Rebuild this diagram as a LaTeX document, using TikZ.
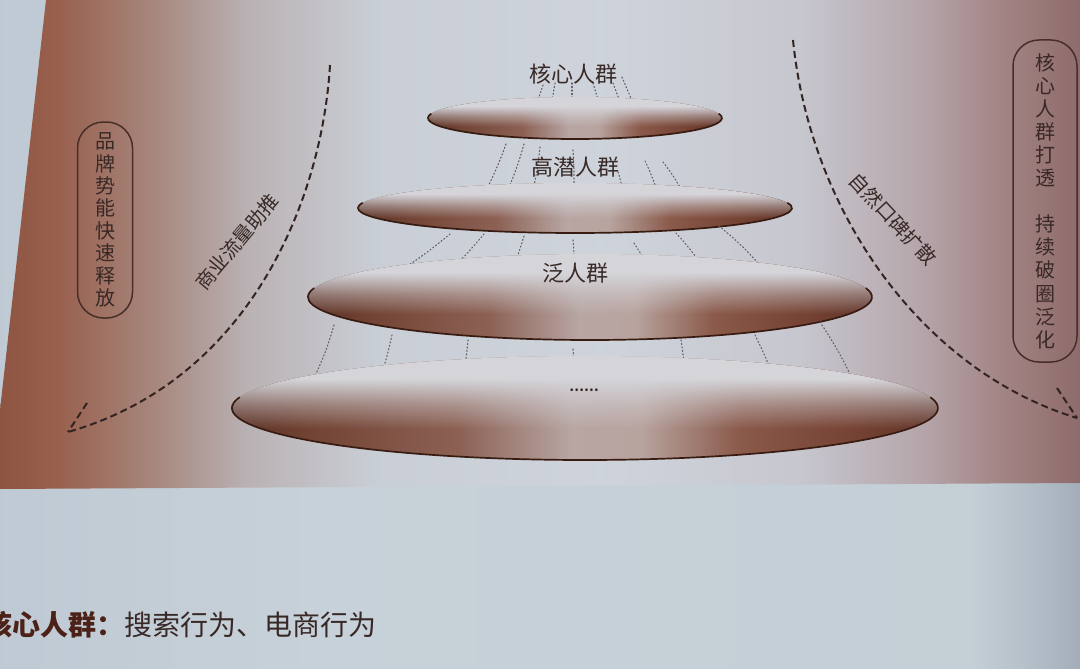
\documentclass[tikz,border=0pt]{standalone}
\usepackage{fontspec}
\setmainfont{Noto Sans CJK SC}
\usetikzlibrary{fadings}
\definecolor{ink}{rgb}{0.22,0.16,0.15}
\definecolor{rimcol}{rgb}{0.22,0.11,0.07}
\definecolor{dashcol}{rgb}{0.20,0.14,0.13}
\definecolor{dotcol}{rgb}{0.38,0.36,0.38}
\definecolor{discTop}{rgb}{0.83,0.83,0.85}
\definecolor{btitle}{rgb}{0.30,0.13,0.09}
\definecolor{boxcol}{rgb}{0.28,0.18,0.16}
\pgfdeclarehorizontalshading{pagebg}{100bp}{rgb(0bp)=(0.75,0.79,0.83); rgb(25bp)=(0.75,0.79,0.83); rgb(40bp)=(0.78,0.82,0.85); rgb(70bp)=(0.77,0.81,0.84); rgb(73bp)=(0.70,0.74,0.78); rgb(75bp)=(0.64,0.68,0.72); rgb(100bp)=(0.64,0.68,0.72)}
\pgfdeclarehorizontalshading{figbg}{100bp}{rgb(0bp)=(0.56,0.33,0.26); rgb(25bp)=(0.56,0.33,0.26); rgb(27.8bp)=(0.60,0.38,0.31); rgb(31.9bp)=(0.65,0.52,0.48); rgb(36.6bp)=(0.73,0.70,0.71); rgb(42.6bp)=(0.79,0.81,0.84); rgb(52.8bp)=(0.81,0.83,0.86); rgb(62bp)=(0.78,0.78,0.81); rgb(67.6bp)=(0.71,0.65,0.67); rgb(71.3bp)=(0.64,0.52,0.52); rgb(75bp)=(0.56,0.42,0.42); rgb(100bp)=(0.56,0.42,0.42)}
\pgfdeclarehorizontalshading{discshade}{100bp}{rgb(0bp)=(0.36,0.19,0.14); rgb(25bp)=(0.36,0.19,0.14); rgb(31bp)=(0.45,0.27,0.21); rgb(41bp)=(0.55,0.38,0.33); rgb(49bp)=(0.72,0.65,0.64); rgb(54bp)=(0.72,0.64,0.62); rgb(61bp)=(0.54,0.35,0.29); rgb(69bp)=(0.46,0.26,0.20); rgb(75bp)=(0.38,0.20,0.15); rgb(100bp)=(0.38,0.20,0.15)}
\pgfdeclareverticalshading{topfadeshade}{100bp}{color(0bp)=(pgftransparent!100); color(40bp)=(pgftransparent!100); color(52bp)=(pgftransparent!55); color(64bp)=(pgftransparent!0); color(100bp)=(pgftransparent!0)}
\pgfdeclarefading{topfade}{\pgfuseshading{topfadeshade}}
\newcommand\mydisc[4]{%
  \shade[shading=discshade] (#1,#2) ellipse[x radius=#3, y radius=#4];
  \fill[discTop, path fading=topfade] (#1,#2) ellipse[x radius=#3, y radius=#4];
  \draw[rim] (#1,#2) ++(192:#3 and #4) arc[start angle=192, end angle=-12, x radius=#3, y radius=#4];
}
\begin{document}
\begin{tikzpicture}[x=1pt,y=-1pt,
  rim/.style={draw=rimcol, line width=1.7pt},
  dotline/.style={draw=dotcol, line width=1.1pt, dash pattern=on 1.1pt off 2.4pt, line cap=round},
  dashline/.style={draw=dashcol, line width=2pt, dash pattern=on 7pt off 4pt},
  lab/.style={text=ink, inner sep=0pt, font=\fontsize{22}{24}\selectfont},
  curvelab/.style={text=ink, inner sep=0pt, font=\fontsize{19.5}{21}\selectfont},
  vbox/.style={draw=boxcol, line width=1.5pt, text=ink, align=center, inner sep=0pt, rounded corners=26pt},
]
\useasboundingbox (0,0) rectangle (1080,669);
\clip (0,0) rectangle (1080,669);
% page and figure backgrounds
\shade[shading=pagebg] (0,0) rectangle (1080,669);
\shade[shading=figbg] (46,0) -- (1080,0) -- (1080,483) -- (0,489) -- (0,410) -- cycle;

% dotted lines above core
\foreach \a/\b/\c/\d in {543/85/533/115, 555/83/550/113, 572/83/572/103, 593/83/602/113, 613/83/623/110, 622/77/635/108}
  \draw[dotline] (\a,\b) -- (\c,\d);

% disc 1 (core)
\mydisc{575}{118}{147}{21}
% dotted lines between disc 1 and 2
\foreach \a/\b/\c/\d in {506/144/482/198, 524/144/506/194, 540/147/531/198, 573/150/573/201, 618/172/625/203, 645/161/658/194, 663/162/681/189}
  \draw[dotline] (\a,\b) to[bend left=4] (\c,\d);

% disc 2
\mydisc{575}{208}{217}{25}
% dotted lines between disc 2 and 3
\foreach \a/\b/\c/\d in {450/234/379/283, 484/234/430/288, 524/236/502/292, 573/240/573/292, 634/243/656/285, 676/233/708/275, 719/226/764/270}
  \draw[dotline] (\a,\b) to[bend left=5] (\c,\d);

% disc 3
\mydisc{590}{297}{282}{43}
% dotted lines between disc 3 and 4
\foreach \a/\b/\c/\d in {334/325/312/382, 392/335/372/399, 468/340/455/412, 573/349/573/422, 681/340/685/402, 755/335/779/396, 820/322/858/392}
  \draw[dotline] (\a,\b) to[bend left=5] (\c,\d);

% disc 4
\mydisc{585}{408}{353}{52}

% labels on discs
\node[lab] (core) at (573,74) {核心人群};
\node[lab] (high) at (575,167) {高潜人群};
\node[lab] (broad) at (575,273) {泛人群};
\node[text=ink, inner sep=0pt, font=\bfseries\fontsize{13}{13}\selectfont] (more) at (584,390) {……};

% dashed curved arrows
\coordinate (Ls) at (330,65);
\coordinate (Lt) at (68,432);
\coordinate (Lb) at (87,403);
\draw[dashline] (Ls) .. controls (322,200) and (250,380) .. (Lt);
\draw[dashline] (Lb) -- (Lt);
\coordinate (Rs) at (793,40);
\coordinate (Rt) at (1077,418);
\coordinate (Rb) at (1057,388);
\draw[dashline] (Rs) .. controls (810,210) and (920,370) .. (Rt);
\draw[dashline] (Rb) -- (Rt);

\node[curvelab, rotate=50] (push) at (237,242) {商业流量助推};
\node[curvelab, rotate=-47] (word) at (893,219) {自然口碑扩散};

% vertical rounded boxes
\node[vbox, minimum width=55pt, minimum height=196pt, font=\fontsize{20}{22.4}\selectfont] (lbox) at (105,220)
  {品\\牌\\势\\能\\快\\速\\释\\放};
\node[vbox, minimum width=64pt, minimum height=322pt, font=\fontsize{20}{23.1}\selectfont] (rbox) at (1045,201)
  {核\\心\\人\\群\\打\\透\\[23.1pt]持\\续\\破\\圈\\泛\\化};

% bottom text (first character cut by the page edge, as in the photo)
\node[anchor=west, inner sep=0pt, text=ink, font=\fontsize{28}{30}\selectfont] (bottom) at (-16,625)
  {{\bfseries\color{btitle}核心人群：}搜索行为、电商行为};
\end{tikzpicture}
\end{document}
